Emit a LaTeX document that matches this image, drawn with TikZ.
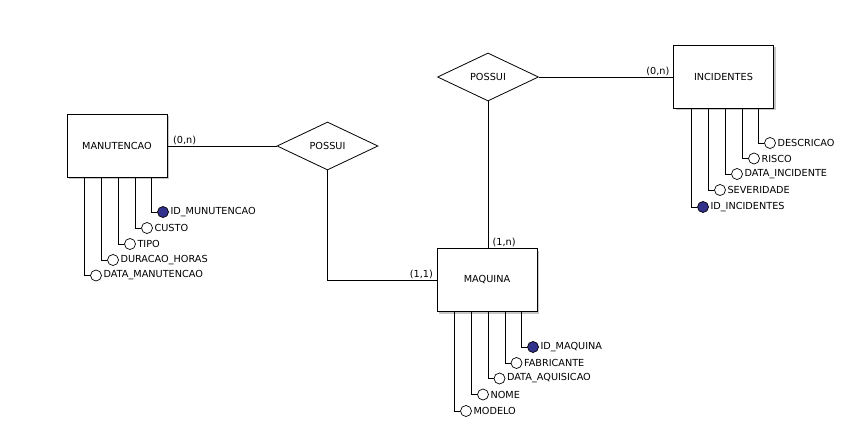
\documentclass[tikz,border=0pt]{standalone}
\usepackage{fontspec}
\setmainfont{DejaVu Sans}
\usetikzlibrary{shapes.geometric,shadows}
\definecolor{pkblue}{RGB}{50,50,140}
\newcommand\erfont{\fontsize{9.7}{11}\selectfont}
\tikzset{
  ent/.style={draw, fill=white, line width=0.9pt, minimum width=100pt, minimum height=63pt,
    inner sep=0pt, font=\erfont,
    drop shadow={shadow xshift=2pt, shadow yshift=-2pt, fill=gray!45, opacity=1}},
  rel/.style={diamond, draw, fill=white, line width=0.8pt, aspect=2.1, inner sep=0pt,
    minimum width=101pt, minimum height=48pt, font=\erfont},
  attr/.style={circle, draw, fill=white, line width=0.7pt, minimum size=11pt, inner sep=0pt,
    label distance=1.5pt},
  keyattr/.style={attr, fill=pkblue},
  lbl/.style={font=\erfont, inner sep=1.5pt},
  card/.style={font=\erfont, inner sep=1.5pt},
  conn/.style={line width=0.8pt}
}
\begin{document}
\begin{tikzpicture}[x=1pt, y=-1pt]
\useasboundingbox[fill=white] (0,0) rectangle (850,425);

% entities
\node[ent] (mn) at (117,145.5) {MANUTENCAO};
\node[ent] (mq) at (487,280) {MAQUINA};
\node[ent] (inc) at (723.5,76.5) {INCIDENTES};

% relationships
\node[rel] (d1) at (327.5,146) {POSSUI};
\node[rel] (d2) at (488,77) {POSSUI};

% relationship connectors
\draw[conn] (mn.east |- d1.west) -- (d1.west);
\draw[conn] (d1.south) |- (mq.west);
\draw[conn] (d2.south) -- (d2.south |- mq.north);
\draw[conn] (d2.east) -- (d2.east -| inc.west);

% cardinalities
\node[card, anchor=south west] (c1) at ([xshift=4pt]mn.east |- d1.west) {(0,n)};
\node[card, anchor=south east] (c2) at ([xshift=-2pt]mq.west) {(1,1)};
\node[card, anchor=south west] (c3) at ([xshift=3pt]d2.south |- mq.north) {(1,n)};
\node[card, anchor=south east] (c4) at ([xshift=-2pt]d2.east -| inc.west) {(0,n)};

% MANUTENCAO attributes
\node[keyattr, label={[lbl]right:ID\_MUNUTENCAO}] (m1) at (163,212) {};
\node[attr, label={[lbl]right:CUSTO}] (m2) at (147,228) {};
\node[attr, label={[lbl]right:TIPO}] (m3) at (130,244) {};
\node[attr, label={[lbl]right:DURACAO\_HORAS}] (m4) at (113,260) {};
\node[attr, label={[lbl]right:DATA\_MANUTENCAO}] (m5) at (96,275.5) {};
\foreach \a in {m1,m2,m3,m4,m5}
  \draw[conn] ([xshift=-5.5pt]\a.west |- mn.south) |- (\a.west);

% MAQUINA attributes
\node[keyattr, label={[lbl]right:ID\_MAQUINA}] (q1) at (533,347) {};
\node[attr, label={[lbl]right:FABRICANTE}] (q2) at (516.5,363) {};
\node[attr, label={[lbl]right:DATA\_AQUISICAO}] (q3) at (499.5,378.5) {};
\node[attr, label={[lbl]right:NOME}] (q4) at (483,394.5) {};
\node[attr, label={[lbl]right:MODELO}] (q5) at (466,411) {};
\foreach \a in {q1,q2,q3,q4,q5}
  \draw[conn] ([xshift=-5.5pt]\a.west |- mq.south) |- (\a.west);

% INCIDENTES attributes
\node[attr, label={[lbl]right:DESCRICAO}] (i1) at (770,143) {};
\node[attr, label={[lbl]right:RISCO}] (i2) at (754,158.5) {};
\node[attr, label={[lbl]right:DATA\_INCIDENTE}] (i3) at (737,174) {};
\node[attr, label={[lbl]right:SEVERIDADE}] (i4) at (720,190) {};
\node[keyattr, label={[lbl]right:ID\_INCIDENTES}] (i5) at (703,207) {};
\foreach \a in {i1,i2,i3,i4,i5}
  \draw[conn] ([xshift=-5.5pt]\a.west |- inc.south) |- (\a.west);
\end{tikzpicture}
\end{document}
